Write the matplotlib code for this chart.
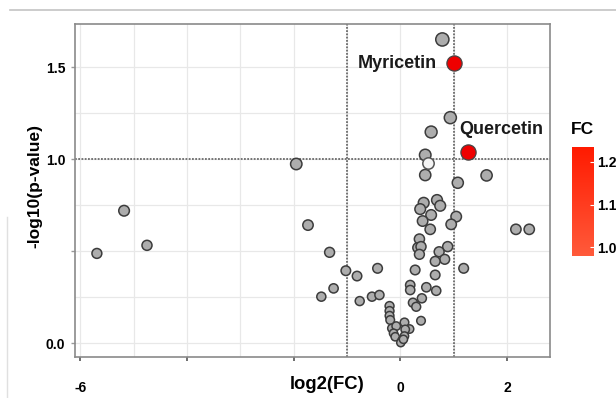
import numpy as np
import matplotlib.pyplot as plt
from matplotlib.colors import LinearSegmentedColormap, Normalize
from matplotlib.cm import ScalarMappable
from matplotlib.lines import Line2D

plt.rcParams['font.family'] = ['Liberation Sans', 'DejaVu Sans']

# =========== data =========
log2fc = [-5.69, -5.18, -4.75, -1.95, -1.73, -1.325, -1.02, -0.81, -0.425, -1.25,
          -1.48, -0.76, -0.53, -0.39,
          0.79, 0.94, 0.58, 0.469, 0.469, 1.62, 1.08,
          0.44, 0.69, 0.75, 0.375, 0.58, 1.05, 0.42, 0.956, 0.5625, 2.17,
          2.42, 0.36, 0.33, 0.39, 0.89, 0.36, 0.73, 0.835, 0.656, 0.28,
          0.656, 1.19, 0.1875, 0.1875, 0.49, 0.675, 0.406, 0.238, 0.30, -0.20,
          -0.20, -0.20, 0.39, -0.1875, 0.08, -0.156, -0.075, 0.175, 0.094, -0.125,
          -0.094, 0.08, 0.03, 0.01, 0.06]
neglogp = [0.487, 0.719, 0.531, 0.973, 0.641, 0.493, 0.393, 0.364, 0.406, 0.297,
           0.252, 0.228, 0.252, 0.261,
           1.65, 1.225, 1.147, 1.022, 0.913, 0.911, 0.871,
           0.762, 0.777, 0.746, 0.728, 0.696, 0.687, 0.663, 0.645, 0.618, 0.618,
           0.618, 0.565, 0.518, 0.524, 0.524, 0.482, 0.496, 0.455, 0.444, 0.397,
           0.37, 0.406, 0.315, 0.288, 0.303, 0.284, 0.243, 0.219, 0.197, 0.201,
           0.174, 0.148, 0.121, 0.125, 0.112, 0.08, 0.092, 0.076, 0.074, 0.053,
           0.034, 0.038, 0.013, 0.002, 0.02]

# the pale one just under the threshold
pale_x = [0.53]
pale_y = [0.977]

hit_names = ['Myricetin', 'Quercetin']
hit_x = [1.0, 1.27]
hit_y = [1.52, 1.038]
hit_fc = [1.22, 1.21]

fc_ticks = [1.0, 1.1, 1.2]
x_ticks = [-6, -4, -2, 0, 2]
x_ticklabels = ['-6', '', '', '0', '2']
y_ticks = [0.0, 0.5, 1.0, 1.5]
y_ticklabels = ['0.0', '', '1.0', '1.5']
# ===================================

fig = plt.figure(figsize=(6.16, 3.98), dpi=100)
ax = fig.add_axes([0.1218, 0.103, 0.7711, 0.8367])

ax.set_xlim(-6.1, 2.81)
ax.set_ylim(-0.076, 1.734)

# light grid
for gx in np.arange(-6, 3, 1):
    ax.axvline(gx, color='#e8e8e8', lw=0.9, zorder=0)
for gy in np.arange(0, 1.75, 0.25):
    ax.axhline(gy, color='#e8e8e8', lw=0.9, zorder=0)

# thresholds
dot = (0, (1, 0.8))
ax.axvline(-1, color='#6a6a6a', lw=1.3, ls=dot, zorder=1)
ax.axvline(1, color='#6a6a6a', lw=1.3, ls=dot, zorder=1)
ax.axhline(1, color='#6a6a6a', lw=1.3, ls=dot, zorder=1)

# marker size grows with significance
sizes = np.interp(neglogp, [0, 1.65], [34, 90])
ax.scatter(log2fc, neglogp, s=sizes, c='#adadad', edgecolors='#3c3c3c',
           linewidths=1.1, zorder=3)
ax.scatter(pale_x, pale_y, s=np.interp(pale_y, [0, 1.65], [34, 90]),
           c='#f4f4f4', edgecolors='#555555', linewidths=1.1, zorder=3)

cmap = LinearSegmentedColormap.from_list('fc', ['#ff5a3a', '#ff1a00'])
norm = Normalize(vmin=0.98, vmax=1.235)
ax.scatter(hit_x, hit_y, s=120, c='#ee0000', edgecolors='#444444',
           linewidths=0.9, zorder=4)

ax.text(hit_x[0] - 0.31, hit_y[0], hit_names[0], ha='right', va='center',
        fontsize=13, fontweight='bold', color='#1a1a1a')
ax.text(1.106, 1.161, hit_names[1], ha='left', va='center',
        fontsize=13, fontweight='bold', color='#1a1a1a')

ax.set_xticks(x_ticks)
ax.set_xticklabels(x_ticklabels)
ax.set_yticks(y_ticks)
ax.set_yticklabels(y_ticklabels)
ax.tick_params(axis='x', length=3, width=1.2, color='#555555', pad=14,
               labelsize=10)
ax.tick_params(axis='y', length=3, width=1.0, color='#999999', pad=4,
               labelsize=10)
for lab in ax.get_xticklabels() + ax.get_yticklabels():
    lab.set_fontweight('bold')

for sp in ax.spines.values():
    sp.set_color('#8a8a8a')
    sp.set_linewidth(1.2)

ax.set_xlabel('log2(FC)', fontsize=13.3, fontweight='bold')
ax.xaxis.set_label_coords(0.53, -0.084)
ax.set_ylabel('-log10(p-value)', fontsize=12.5, fontweight='bold')
ax.yaxis.set_label_coords(-0.084, 0.514)
ax.xaxis.label.set_va('center')
ax.yaxis.label.set_va('center')

# colour bar for FC
cax = fig.add_axes([0.9286, 0.357, 0.0357, 0.274])
cb = fig.colorbar(ScalarMappable(norm=norm, cmap=cmap), cax=cax)
cb.outline.set_visible(False)
cb.set_ticks(fc_ticks)
cb.set_ticklabels(['1.0', '1.1', '1.2'])
cax.tick_params(length=3, direction='in', color='#ffffff', pad=2, labelsize=10)
for lab in cax.get_yticklabels():
    lab.set_fontweight('bold')
fig.text(0.946, 0.674, 'FC', ha='center', va='center', fontsize=12.5,
         fontweight='bold')

# screenshot frame remains
fig.add_artist(Line2D([0.016, 1.0], [0.975, 0.975], color='#c4c4c4', lw=1.2))
fig.add_artist(Line2D([0.011, 0.011], [0.0, 0.455], color='#e0e0e0', lw=1.0))

fig.savefig('out.png', dpi=100)
